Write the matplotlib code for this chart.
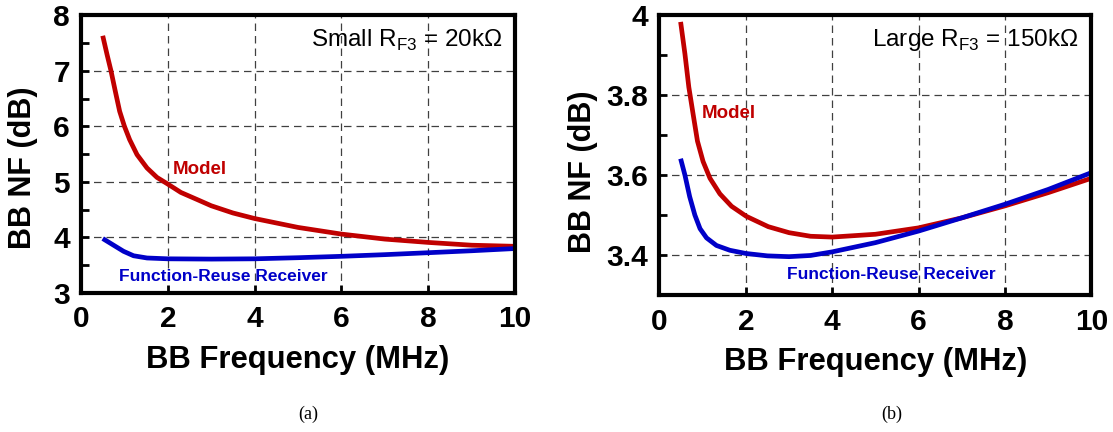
import matplotlib
matplotlib.use("Agg")
import matplotlib.pyplot as plt
from matplotlib.ticker import MultipleLocator
from matplotlib import font_manager

# ── Data ──────────────────────────────────────────────────────────────────────
freq_a_model = [0.5, 0.6, 0.69, 0.79, 0.89, 1.0, 1.12, 1.29, 1.52, 1.75, 2.0, 2.3, 2.71,
                3.0, 3.5, 4.0, 5.0, 6.0, 7.0, 8.0, 9.0, 10.0]
nf_a_model = [7.63, 7.29, 7.0, 6.63, 6.27, 6.0, 5.76, 5.49, 5.25, 5.08, 4.96, 4.81, 4.67,
              4.57, 4.44, 4.34, 4.18, 4.06, 3.97, 3.91, 3.86, 3.84]

freq_a_recv = [0.5, 0.75, 0.98, 1.21, 1.52, 2.0, 3.0, 4.0, 5.0, 6.0, 7.0, 8.0, 9.0, 10.0]
nf_a_recv = [3.98, 3.86, 3.75, 3.67, 3.63, 3.615, 3.61, 3.615, 3.635, 3.66, 3.69, 3.725, 3.76, 3.80]

freq_b_model = [0.49, 0.59, 0.68, 0.78, 0.88, 1.01, 1.17, 1.4, 1.67, 2.01, 2.52, 3.0, 3.5, 4.0,
                5.0, 6.0, 7.0, 8.0, 9.0, 10.0]
nf_b_model = [3.983, 3.903, 3.82, 3.752, 3.685, 3.634, 3.592, 3.553, 3.522, 3.497, 3.471, 3.456,
              3.447, 3.445, 3.452, 3.468, 3.493, 3.523, 3.556, 3.592]

freq_b_recv = [0.49, 0.59, 0.7, 0.82, 0.94, 1.09, 1.32, 1.63, 2.0, 2.5, 3.0, 3.5, 4.0, 5.0,
               6.0, 7.0, 8.0, 9.0, 10.0]
nf_b_recv = [3.641, 3.60, 3.546, 3.50, 3.466, 3.443, 3.424, 3.412, 3.404, 3.398, 3.396, 3.399,
             3.408, 3.431, 3.46, 3.493, 3.527, 3.564, 3.606]

x_ticks = [0, 2, 4, 6, 8, 10]
y_ticks_a = [3, 4, 5, 6, 7, 8]
y_ticks_b = [3.4, 3.6, 3.8, 4.0]
y_labels_b = ["3.4", "3.6", "3.8", "4"]

RED = "#c00000"
BLUE = "#0000c8"

installed = {f.name for f in font_manager.fontManager.ttflist}
NARROW = "Liberation Sans Narrow" if "Liberation Sans Narrow" in installed else "Liberation Sans"

plt.rcParams["font.family"] = ["Liberation Sans", "DejaVu Sans"]
plt.rcParams["mathtext.fontset"] = "custom"
plt.rcParams["mathtext.rm"] = "Liberation Sans"


def style_axes(ax, ylim, yticks, ylabels, minor):
    ax.set_xlim(0, 10)
    ax.set_ylim(*ylim)
    ax.set_xticks(x_ticks)
    ax.set_yticks(yticks)
    ax.set_yticklabels(ylabels)
    ax.yaxis.set_minor_locator(MultipleLocator(minor))
    ax.grid(True, which="major", color="0.25", linestyle=(0, (6, 4)), linewidth=0.9)
    for s in ax.spines.values():
        s.set_linewidth(3)
    ax.tick_params(which="both", direction="in", width=2, color="black", length=6)
    ax.tick_params(axis="x", pad=9)
    ax.tick_params(axis="y", pad=8)
    for lab in ax.get_xticklabels() + ax.get_yticklabels():
        lab.set_fontfamily(NARROW)
        lab.set_fontweight("bold")
        lab.set_fontsize(21.5)
    ax.set_xlabel("BB Frequency (MHz)", fontsize=22.3, fontweight="bold", labelpad=8)
    ax.set_ylabel("BB NF (dB)", fontsize=22, fontweight="bold")


line_kw = dict(linewidth=3.4, solid_capstyle="butt", solid_joinstyle="round")

fig = plt.figure(figsize=(11.13, 4.32), dpi=100)

# ── (a) small RF3 ─────────────────────────────────────────────────────────────
ax1 = fig.add_axes([0.0728, 0.3218, 0.390, 0.643])
ax1.plot(freq_a_model, nf_a_model, color=RED, **line_kw)
ax1.plot(freq_a_recv, nf_a_recv, color=BLUE, **line_kw)
style_axes(ax1, (3, 8), y_ticks_a, [str(v) for v in y_ticks_a], 0.5)
ax1.yaxis.set_label_coords(-0.099, 0.45)
ax1.text(0.972, 0.888, r"Small R$_{\mathrm{F3}}$ = 20kΩ", transform=ax1.transAxes,
         ha="right", va="baseline", fontsize=17.5)
ax1.text(2.12, 5.15, "Model", color=RED, fontsize=13.5, fontweight="bold",
         fontfamily=NARROW, va="baseline")
ax1.text(0.88, 3.22, "Function-Reuse Receiver", color=BLUE, fontsize=12.5,
         fontweight="bold", fontfamily=NARROW, va="baseline")

# ── (b) large RF3 ─────────────────────────────────────────────────────────────
ax2 = fig.add_axes([0.5925, 0.317, 0.388, 0.648])
ax2.plot(freq_b_model, nf_b_model, color=RED, **line_kw)
ax2.plot(freq_b_recv, nf_b_recv, color=BLUE, **line_kw)
style_axes(ax2, (3.3, 4.0), y_ticks_b, y_labels_b, 0.1)
ax2.yaxis.set_label_coords(-0.143, 0.44)
ax2.text(0.970, 0.889, r"Large R$_{\mathrm{F3}}$ = 150kΩ", transform=ax2.transAxes,
         ha="right", va="baseline", fontsize=17.5)
ax2.text(0.97, 3.742, "Model", color=RED, fontsize=13.5, fontweight="bold",
         fontfamily=NARROW, va="baseline")
ax2.text(2.96, 3.339, "Function-Reuse Receiver", color=BLUE, fontsize=12.5,
         fontweight="bold", fontfamily=NARROW, va="baseline")

# ── captions ──────────────────────────────────────────────────────────────────
fig.text(308 / 1113, 1 - 414 / 432, "(a)", ha="center", va="center",
         fontfamily="Liberation Serif", fontsize=13)
fig.text(892 / 1113, 1 - 414 / 432, "(b)", ha="center", va="center",
         fontfamily="Liberation Serif", fontsize=13)

fig.savefig("out.png", dpi=100)
